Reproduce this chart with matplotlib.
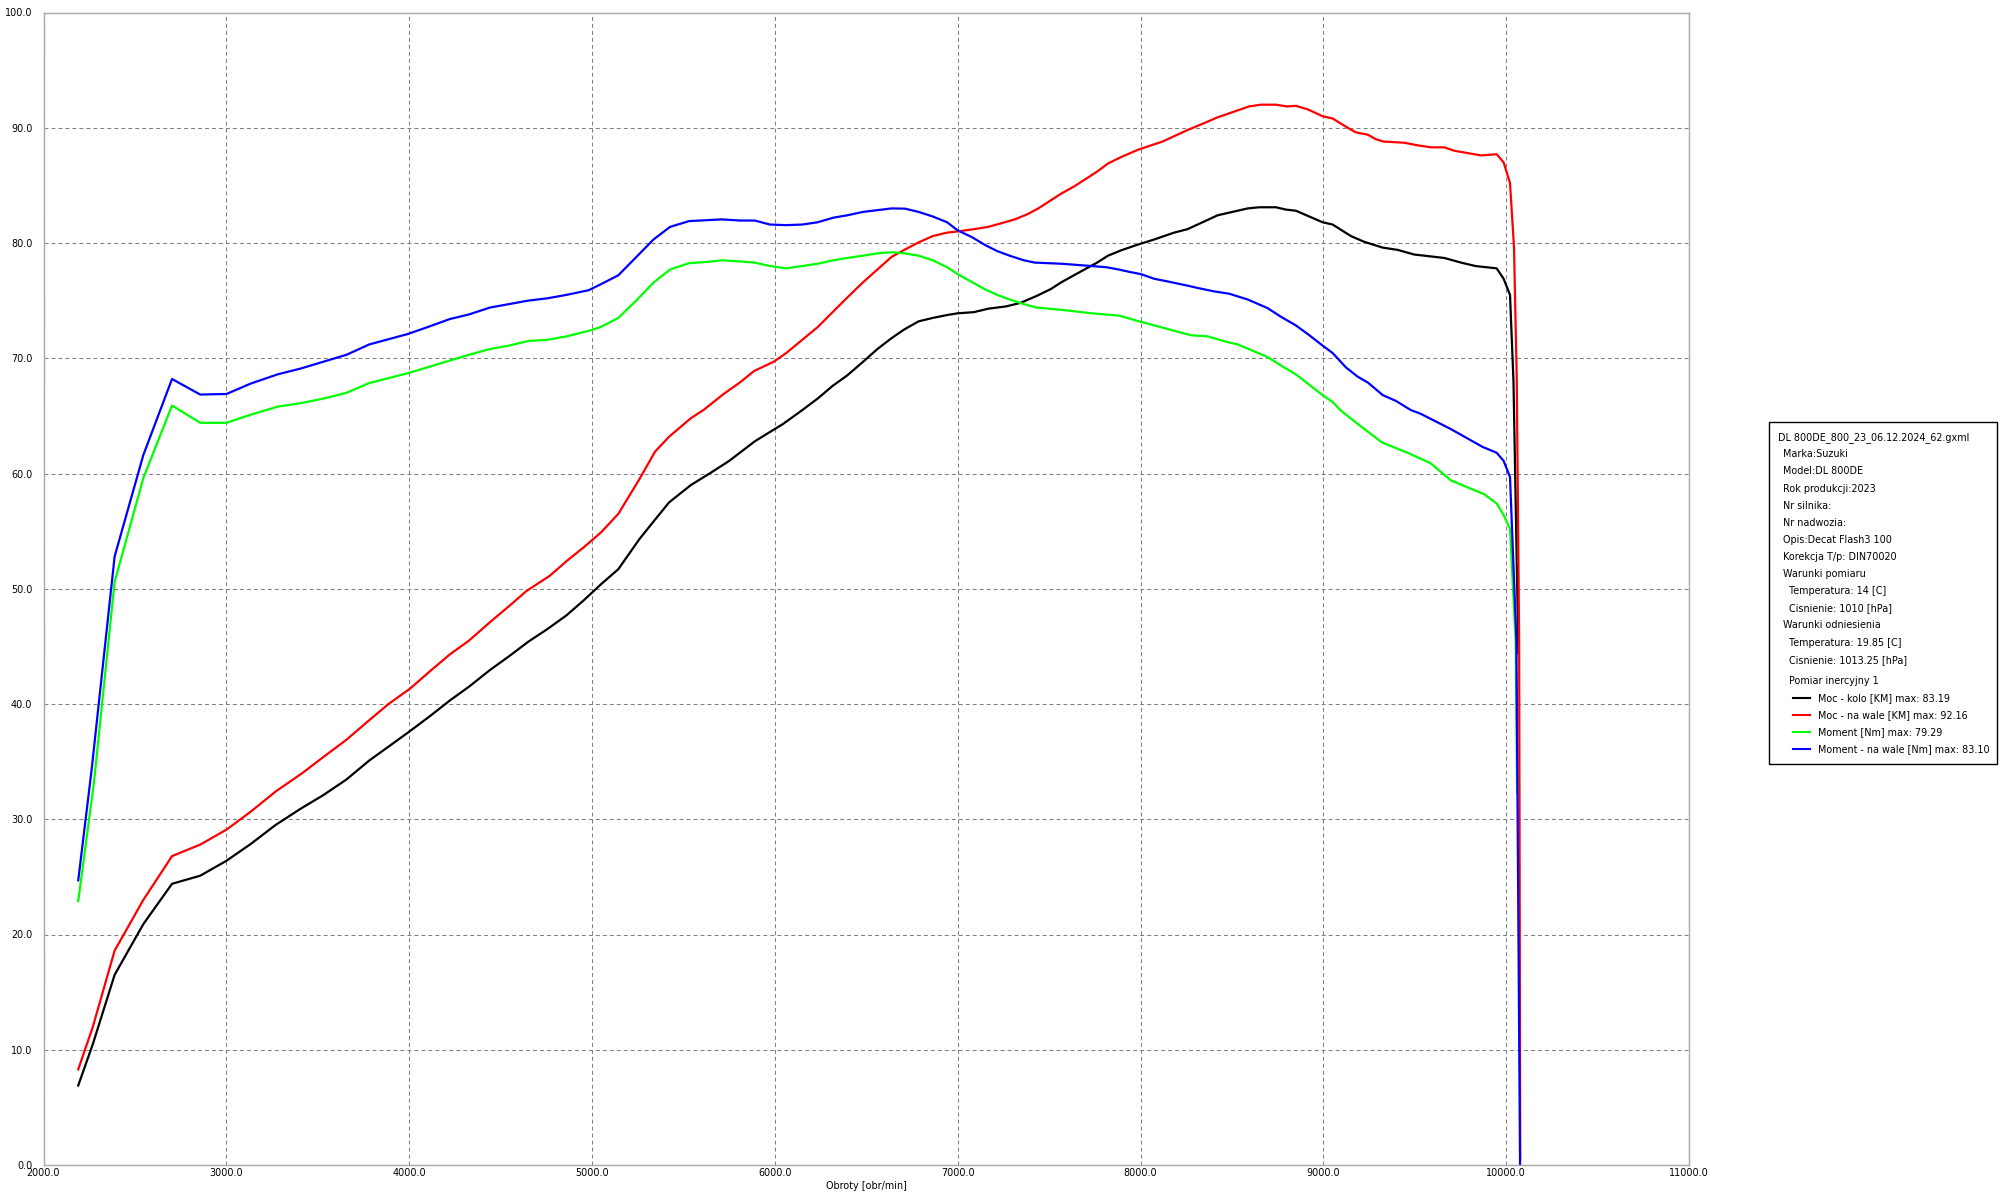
import numpy as np
import matplotlib.pyplot as plt
from matplotlib.ticker import FormatStrFormatter
from matplotlib.patches import Rectangle
from matplotlib.lines import Line2D

# Moc - kolo [KM]
rpm_kolo = [2190, 2270, 2389, 2546, 2703, 2857, 3001, 3133, 3269, 3405, 3531, 3657, 3782, 3887, 3996,
            4118, 4222, 4327, 4442, 4547, 4651, 4756, 4861, 4955, 5050, 5144, 5259, 5345, 5422, 5541,
            5653, 5751, 5891, 6045, 6150, 6234, 6316, 6395, 6483, 6561, 6639, 6708, 6786, 6864, 6942,
            7000, 7089, 7167, 7265, 7343, 7431, 7509, 7568, 7636, 7705, 7763, 7822, 7900, 7993, 8074,
            8184, 8257, 8367, 8421, 8531, 8586, 8649, 8741, 8795, 8850, 8923, 8996, 9051, 9096, 9151,
            9224, 9325, 9407, 9497, 9662, 9753, 9833, 9948, 9986, 10021, 10040, 10067]
moc_kolo = [6.9, 10.5, 16.5, 20.9, 24.4, 25.1, 26.4, 27.85, 29.5, 30.9, 32.1, 33.45, 35.1, 36.3, 37.55,
            39.0, 40.3, 41.5, 42.95, 44.15, 45.4, 46.5, 47.7, 49.0, 50.4, 51.7, 54.3, 56.0, 57.5, 59.0,
            60.1, 61.1, 62.8, 64.3, 65.5, 66.5, 67.6, 68.5, 69.7, 70.8, 71.75, 72.5, 73.2, 73.5, 73.75,
            73.9, 74.0, 74.3, 74.5, 74.8, 75.4, 76.0, 76.6, 77.2, 77.8, 78.3, 78.9, 79.4, 79.9, 80.3,
            80.9, 81.2, 82.0, 82.4, 82.8, 83.0, 83.1, 83.1, 82.9, 82.8, 82.3, 81.8, 81.6, 81.15, 80.6,
            80.1, 79.6, 79.4, 79.0, 78.7, 78.3, 78.0, 77.8, 76.9, 75.5, 68.0, 44.4]

# Moc - na wale [KM]
rpm_wal = [2190, 2270, 2389, 2546, 2703, 2857, 3001, 3133, 3269, 3415, 3531, 3657, 3782, 3887, 4002,
           4118, 4222, 4327, 4442, 4547, 4641, 4767, 4861, 4955, 5050, 5144, 5259, 5345, 5422, 5541,
           5609, 5720, 5805, 5887, 5994, 6062, 6150, 6234, 6316, 6395, 6483, 6561, 6639, 6708, 6786,
           6864, 6942, 7000, 7089, 7167, 7235, 7313, 7382, 7441, 7509, 7568, 7636, 7705, 7763, 7822,
           7900, 7988, 8120, 8257, 8348, 8421, 8512, 8594, 8658, 8741, 8801, 8850, 8914, 8996, 9051,
           9133, 9178, 9243, 9288, 9330, 9443, 9507, 9589, 9662, 9717, 9790, 9863, 9948, 9986, 10021,
           10043, 10058, 10071, 10077]
moc_wal = [8.3, 12.0, 18.6, 23.0, 26.8, 27.8, 29.1, 30.65, 32.4, 34.0, 35.4, 36.9, 38.6, 40.0, 41.3,
           42.9, 44.3, 45.5, 47.1, 48.5, 49.8, 51.1, 52.4, 53.6, 54.9, 56.5, 59.5, 61.9, 63.2, 64.8,
           65.5, 66.9, 67.85, 68.9, 69.7, 70.45, 71.6, 72.7, 74.0, 75.25, 76.6, 77.7, 78.8, 79.4, 80.05,
           80.6, 80.9, 81.0, 81.2, 81.4, 81.7, 82.05, 82.5, 83.0, 83.7, 84.3, 84.9, 85.6, 86.2, 86.9,
           87.5, 88.1, 88.8, 89.8, 90.4, 90.9, 91.4, 91.85, 92.0, 92.0, 91.85, 91.9, 91.6, 91.0, 90.8,
           90.0, 89.6, 89.4, 89.0, 88.8, 88.7, 88.5, 88.3, 88.3, 88.0, 87.8, 87.6, 87.7, 87.0, 85.2,
           79.6, 68.1, 45.5, 0.5]

# Moment [Nm]
rpm_mom = [2190, 2276, 2389, 2546, 2703, 2857, 3001, 3133, 3280, 3405, 3531, 3657, 3782, 3992, 4118,
           4222, 4327, 4442, 4547, 4651, 4756, 4861, 4987, 5046, 5144, 5241, 5339, 5427, 5531, 5623,
           5714, 5808, 5890, 5974, 6062, 6150, 6234, 6321, 6395, 6483, 6561, 6639, 6712, 6786, 6864,
           6942, 7000, 7079, 7147, 7216, 7284, 7362, 7431, 7568, 7734, 7883, 7993, 8111, 8203, 8275,
           8367, 8476, 8531, 8622, 8695, 8786, 8850, 8923, 8996, 9051, 9093, 9180, 9320, 9460, 9586,
           9698, 9880, 9948, 9986, 10021, 10052, 10060]
moment = [22.9, 33.2, 50.6, 59.6, 65.9, 64.4, 64.4, 65.1, 65.8, 66.1, 66.5, 67.0, 67.85, 68.7, 69.3,
          69.8, 70.3, 70.8, 71.1, 71.5, 71.6, 71.9, 72.4, 72.7, 73.5, 75.0, 76.6, 77.7, 78.25, 78.35,
          78.5, 78.4, 78.3, 78.0, 77.8, 78.0, 78.2, 78.5, 78.7, 78.9, 79.1, 79.2, 79.1, 78.9, 78.5,
          77.9, 77.3, 76.6, 76.0, 75.5, 75.1, 74.7, 74.4, 74.2, 73.9, 73.7, 73.2, 72.7, 72.3, 72.0,
          71.9, 71.4, 71.2, 70.6, 70.1, 69.2, 68.6, 67.7, 66.8, 66.2, 65.5, 64.4, 62.7, 61.8, 60.9,
          59.4, 58.2, 57.4, 56.4, 55.2, 45.5, 32.3]

# Moment - na wale [Nm]
rpm_mom_wal = [2190, 2264, 2389, 2546, 2703, 2857, 3001, 3133, 3280, 3405, 3531, 3657, 3782, 3992, 4118,
               4222, 4327, 4442, 4547, 4651, 4756, 4861, 4981, 5046, 5144, 5231, 5336, 5427, 5531, 5710,
               5808, 5890, 5974, 6062, 6150, 6234, 6321, 6395, 6483, 6561, 6639, 6712, 6786, 6864, 6942,
               7000, 7079, 7147, 7216, 7284, 7362, 7421, 7568, 7734, 7812, 7881, 7938, 8002, 8074, 8138,
               8257, 8312, 8403, 8485, 8586, 8695, 8768, 8850, 8923, 8996, 9051, 9124, 9188, 9243, 9325,
               9397, 9479, 9530, 9698, 9872, 9948, 9986, 10021, 10056, 10076]
moment_wal = [24.7, 34.4, 52.8, 61.6, 68.2, 66.85, 66.9, 67.8, 68.6, 69.1, 69.7, 70.3, 71.2, 72.1, 72.8,
              73.4, 73.8, 74.4, 74.7, 75.0, 75.2, 75.5, 75.9, 76.4, 77.2, 78.6, 80.3, 81.4, 81.9, 82.05,
              81.95, 81.95, 81.6, 81.55, 81.6, 81.8, 82.2, 82.4, 82.7, 82.85, 83.0, 82.98, 82.7, 82.3, 81.8,
              81.1, 80.5, 79.85, 79.3, 78.9, 78.5, 78.3, 78.2, 78.0, 77.9, 77.7, 77.5, 77.3, 76.9, 76.7,
              76.3, 76.1, 75.8, 75.6, 75.1, 74.35, 73.6, 72.85, 72.0, 71.1, 70.45, 69.2, 68.4, 67.9, 66.8,
              66.3, 65.5, 65.2, 63.85, 62.3, 61.8, 61.1, 59.7, 45.5, 0.0]

legend_labels = ['Moc - kolo [KM] max: 83.19', 'Moc - na wale [KM] max: 92.16',
                 'Moment [Nm] max: 79.29', 'Moment - na wale [Nm] max: 83.10']
info_lines = ['DL 800DE_800_23_06.12.2024_62.gxml', 'Marka:Suzuki', 'Model:DL 800DE',
              'Rok produkcji:2023', 'Nr silnika:', 'Nr nadwozia:', 'Opis:Decat Flash3 100',
              'Korekcja T/p: DIN70020', 'Warunki pomiaru', 'Temperatura: 14 [C]',
              'Cisnienie: 1010 [hPa]', 'Warunki odniesienia', 'Temperatura: 19.85 [C]',
              'Cisnienie: 1013.25 [hPa]', 'Pomiar inercyjny 1']
info_indent = [0, 1, 1, 1, 1, 1, 1, 1, 1, 2, 2, 1, 2, 2, 2]

plt.rcParams['font.family'] = ['DejaVu Sans']
FS = 6.9
W, H = 2006, 1203
fig = plt.figure(figsize=(W / 100, H / 100), dpi=100)
ax = fig.add_axes([43.5 / W, 1 - 1165 / H, (1689 - 43.5) / W, (1165 - 12.5) / H])

ax.plot(rpm_kolo, moc_kolo, color='#000000', lw=1.6)
ax.plot(rpm_wal, moc_wal, color='#ff0000', lw=1.6)
ax.plot(rpm_mom, moment, color='#00ff00', lw=1.6)
ax.plot(rpm_mom_wal, moment_wal, color='#0000ff', lw=1.6)

ax.set_xlim(2000, 11000)
ax.set_ylim(0, 100)
ax.set_xticks(np.arange(2000, 11001, 1000))
ax.set_yticks(np.arange(0, 101, 10))
ax.xaxis.set_major_formatter(FormatStrFormatter('%.1f'))
ax.yaxis.set_major_formatter(FormatStrFormatter('%.1f'))
ax.tick_params(axis='x', length=0, labelsize=FS, pad=2)
ax.tick_params(axis='y', length=0, labelsize=FS, pad=8)
ax.grid(color='#808080', linestyle=(0, (3.8, 2.9)), linewidth=0.75)
for s in ax.spines.values():
    s.set_color('#a8a8a8')
    s.set_linewidth(1)
ax.set_xlabel('Obroty [obr/min]', fontsize=FS, labelpad=2)

# opis pomiaru z prawej strony
fig.add_artist(Rectangle((1769 / W, 1 - 764 / H), (1997 - 1769) / W, (764 - 422) / H,
                         transform=fig.transFigure, fill=False, edgecolor='black', lw=1))
y = 437.3
for txt, ind in zip(info_lines, info_indent):
    if txt == 'Pomiar inercyjny 1':
        y += 4
    fig.text((1778 + 5.3 * ind) / W, 1 - y / H, txt, fontsize=FS, va='center', ha='left')
    y += 17.1
colors = ['#000000', '#ff0000', '#00ff00', '#0000ff']
for lab, c in zip(legend_labels, colors):
    fig.add_artist(Line2D([1793 / W, 1810 / W], [1 - y / H, 1 - y / H], color=c, lw=1.5,
                          transform=fig.transFigure))
    fig.text(1818 / W, 1 - y / H, lab, fontsize=FS, va='center', ha='left')
    y += 17.2

fig.savefig('out.png', dpi=100)
